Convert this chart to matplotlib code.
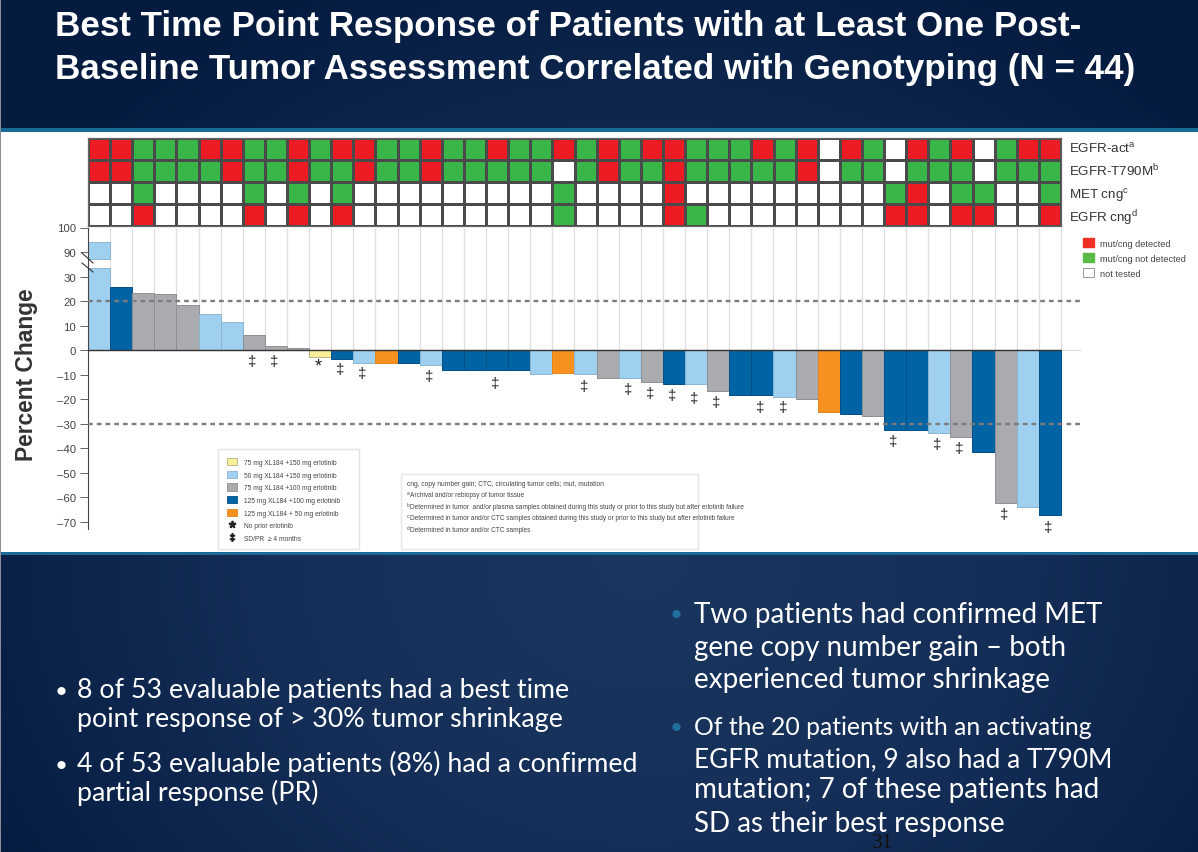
import numpy as np
import matplotlib
matplotlib.use("Agg")
import matplotlib.pyplot as plt
import matplotlib.ticker as mticker
from matplotlib.colors import ListedColormap, LinearSegmentedColormap
from matplotlib.patches import Patch, Rectangle
from matplotlib.lines import Line2D

W, H = 1198, 853
plt.rcParams["font.family"] = ["Liberation Sans", "DejaVu Sans"]
plt.rcParams["mathtext.default"] = "regular"

# ---------- data ----------
gene_labels = ["EGFR-act$^{a}$", "EGFR-T790M$^{b}$", "MET cng$^{c}$", "EGFR cng$^{d}$"]
# R detected, G not detected, W not tested
egfr_act  = "RRGGGRRGGRGRRGGRGGRGGRGRGRRGGGRGRWRGWRGRWGRR"
egfr_t790 = "RRGGGGRGGRGGRGGRGGGGGWGRGGRGGGGGRWGGWGGGWGGG"
met_cng   = "WWGWWWWGWGWGWWWWWWWWWGWWWWRWWWWWWWWWGRWGGWWG"
egfr_cng  = "WWRWWWWRWRWRWWWWWWWWWGWWWWRGWWWWWWWWRRWRRWWR"

first_bar_lower_top = 51.0
first_bar_upper = (72.7, 94.1)
changes = [94.1, 25.8, 23.4, 22.7, 18.4, 14.7, 11.3, 6.1, 1.8, 1.0, -2.7, -3.5, -5.2, -5.2,
           -5.2, -6.1, -8.0, -8.0, -8.0, -8.0, -9.6, -9.5, -9.7, -11.3, -11.4, -13.1, -13.8,
           -13.7, -16.8, -18.2, -18.2, -19.0, -19.9, -25.2, -25.9, -26.8, -32.8, -32.8, -33.7,
           -35.5, -41.5, -62.3, -64.1, -67.3]
doses = "LDGGGLLGGGYDLODLDDDDLOLGLGDLGDDLGODGDDLGDGLD"
dose_names = ["75 mg XL184 +150 mg erlotinib", "50 mg XL184 +150 mg erlotinib",
              "75 mg XL184 +100 mg erlotinib", "125 mg XL184 +100 mg erlotinib",
              "125 mg XL184 + 50 mg erlotinib"]
dose_keys = ["Y", "L", "G", "D", "O"]
dagger_cols = [7, 8, 11, 12, 15, 18, 22, 24, 25, 26, 27, 28, 30, 31, 36, 38, 39, 41, 43]
dagger_vals = [-4.5, -4.5, -7.8, -9.4, -10.5, -13.6, -14.6, -15.9, -17.5, -18.5, -19.7, -21.1,
               -23.4, -23.4, -37.3, -38.4, -40.0, -66.9, -72.0]
star_cols = [10]
star_vals = [-6.3]
yticks = [-70, -60, -50, -40, -30, -20, -10, 0, 10, 20, 30, 90, 100]
ref_lines = [20, -30]
note_marks = ["", "a", "b", "c", "d"]
notes = ["cng, copy number gain; CTC, circulating tumor cells; mut, mutation",
         "Archival and/or rebiopsy of tumor tissue",
         "Determined in tumor  and/or plasma samples obtained during this study or prior to this study but after erlotinib failure",
         "Determined in tumor and/or CTC samples obtained during this study or prior to this study but after erlotinib failure",
         "Determined in tumor and/or CTC samples"]
title_lines = ["Best Time Point Response of Patients with at Least One Post-",
               "Baseline Tumor Assessment Correlated with Genotyping (N = 44)"]
left_lines = ["8 of 53 evaluable patients had a best time", "point response of > 30% tumor shrinkage",
              "4 of 53 evaluable patients (8%) had a confirmed", "partial response (PR)"]
right_lines = ["Two patients had confirmed MET", "gene copy number gain – both", "experienced tumor shrinkage",
               "Of the 20 patients with an activating", "EGFR mutation, 9 also had a T790M",
               "mutation; 7 of these patients had", "SD as their best response"]
right_sizes = [20, 20, 20, 17.8, 18.9, 20, 20]

fill = {"Y": "#f8f09c", "L": "#9fd0f0", "G": "#a9abae", "D": "#0063a4", "O": "#f6901e"}
edge = {"Y": "#b9b27a", "L": "#8db5d2", "G": "#8d8f94", "D": "#00508a", "O": "#e5861c"}

# ---------- helpers ----------
def fx(x): return x / W
def fy(y): return 1 - y / H
def rect_axes(x0, y0, x1, y1, **kw):
    return fig.add_axes([fx(x0), fy(y1), (x1 - x0) / W, (y1 - y0) / H], **kw)

fig = plt.figure(figsize=(W / 100, H / 100), dpi=100)

# ---------- slide background ----------
bg = rect_axes(0, 0, W, H)
yy, xx = np.mgrid[0:H:4, 0:W:4]
d = np.sqrt(((xx - 640) / 760) ** 2 + ((yy - 560) / 640) ** 2)
cmap_bg = LinearSegmentedColormap.from_list("bg", ["#1a3760", "#152e57", "#051b40"])
bg.imshow(np.clip(d, 0, 1), cmap=cmap_bg, extent=[0, W, H, 0], aspect="auto", vmin=0, vmax=1)
bg.set_xlim(0, W); bg.set_ylim(H, 0); bg.axis("off")
bg.add_patch(Rectangle((0, 129), W, 427, fc="#1a6a98", ec="none"))
bg.add_patch(Rectangle((1, 133), W, 420, fc="white", ec="none"))
bg.add_patch(Rectangle((0, 0), 1.2, H, fc="#8a8f96", ec="none"))
bg.add_patch(Rectangle((218, 450), 141, 100, fc="white", ec="#e4e4e4", lw=1.0))
bg.add_patch(Rectangle((401, 475), 297, 75, fc="white", ec="#e6e6e6", lw=1.0))

# ---------- heat strip ----------
rows = [egfr_act, egfr_t790, met_cng, egfr_cng]
code = {"W": 0, "G": 1, "R": 2}
matrix = np.array([[code[c] for c in r] for r in rows])
hm = rect_axes(88, 139, 1061, 227)
hm.pcolormesh(np.arange(45), np.arange(5), matrix,
              cmap=ListedColormap(["white", "#39b54a", "#ed1c24"]), vmin=0, vmax=2,
              edgecolors="#4a4a4a", linewidth=0.75)
hm.set_xlim(0, 44); hm.set_ylim(4, 0)
hm.set_xticks([]); hm.set_yticks([])
for s in hm.spines.values():
    s.set_color("#666666"); s.set_linewidth(0.9)
for y, lab in zip([153, 176, 199, 222], gene_labels):
    fig.text(fx(1069), fy(y), lab, fontsize=9.6, color="#333333", va="baseline")

# ---------- waterfall ----------
def fwd(v):
    v = np.asarray(v, dtype=float)
    return np.where(v <= 30, v, np.where(v <= 90, 30 + (v - 30) / 6, v - 50))
def inv(v):
    v = np.asarray(v, dtype=float)
    return np.where(v <= 30, v, np.where(v <= 40, 30 + (v - 30) * 6, v + 50))

ax = rect_axes(88, 228.5, 1082, 530)
ax.patch.set_alpha(0)
ax.set_yscale("function", functions=(fwd, inv))
ax.set_xlim(0, 994 / 22.11)
ax.set_ylim(-73, 100)
ax.vlines(np.arange(1, 45), 0, 100, color="#dedede", lw=0.9, zorder=1)

xs = np.arange(44) + 0.5
colors = [fill[d] for d in doses]
edges = [edge[d] for d in doses]
heights = list(changes)
heights[0] = first_bar_lower_top
ax.bar(xs, heights, width=1.0, color=colors, edgecolor=edges, linewidth=0.7, zorder=2)
ax.bar(xs[0], first_bar_upper[1] - first_bar_upper[0], bottom=first_bar_upper[0], width=1.0,
       color=colors[0], edgecolor=edges[0], linewidth=0.7, zorder=2)

for v in ref_lines:
    ax.axhline(v, color="#7d7d7d", lw=1.7, dashes=(2.0, 1.7), zorder=3)
ax.axhline(0, color="#e2e2e2", lw=0.9, zorder=1)
ax.hlines(0, 0, 44, color="#333333", lw=1.0, zorder=3)

for c, v in zip(dagger_cols, dagger_vals):
    ax.text(c + 0.42, v, "‡", fontsize=11, ha="center", va="center", color="#222222", zorder=4)
for c, v in zip(star_cols, star_vals):
    ax.text(c + 0.42, v, "*", fontsize=13, ha="center", va="center", color="#222222", zorder=4)

ax.set_yticks(yticks)
ax.set_yticklabels([str(t).replace("-", "–") for t in yticks], fontsize=8.2, color="#444444")
ax.yaxis.set_minor_locator(mticker.NullLocator())
ax.set_xticks([])
ax.tick_params(axis="y", length=5.5, width=0.7, color="#666666", pad=3)
for s in ["top", "right", "bottom"]:
    ax.spines[s].set_visible(False)
ax.spines["left"].set_color("#444444")
ax.spines["left"].set_linewidth(0.8)

# axis break marks
for y0, y1 in [(254, 264), (264, 273)]:
    fig.add_artist(Line2D([fx(82), fx(93)], [fy(y0), fy(y1)], color="#333333", lw=0.8))

fig.text(fx(27), fy(375), "Percent Change", rotation=90, fontsize=16.4, fontweight="bold",
         color="#333333", ha="center", va="center")

# ---------- legends ----------
handles = [Patch(fc=fill[k], ec=edge[k], lw=0.6) for k in dose_keys]
handles += [Line2D([], [], ls="", marker="$*$", ms=4.5, color="#222222"),
            Line2D([], [], ls="", marker="$‡$", ms=5.5, color="#222222")]
labels = dose_names + ["No prior erlotinib", "SD/PR  ≥ 4 months"]
fig.legend(handles, labels, loc="upper left", bbox_to_anchor=(fx(226.5), fy(459)),
           prop={"size": 4.8}, labelcolor="#444444", frameon=False,
           handlelength=1.5, handleheight=1.3, labelspacing=0.72, borderpad=0,
           handletextpad=1.2, borderaxespad=0)

status_handles = [Patch(fc="#ee3124", ec="#ee3124"), Patch(fc="#5ab947", ec="#5ab947"),
                  Patch(fc="white", ec="#999999", lw=0.7)]
fig.legend(status_handles, ["mut/cng detected", "mut/cng not detected", "not tested"],
           loc="upper left", bbox_to_anchor=(fx(1082.7), fy(239)),
           prop={"size": 6.6}, labelcolor="#444444", frameon=False,
           handlelength=1.2, handleheight=1.15, labelspacing=0.59, borderpad=0,
           handletextpad=0.65, borderaxespad=0)

for y, mark, line in zip([486, 497.5, 509, 520.5, 532], note_marks, notes):
    if mark:
        fig.text(fx(407), fy(y - 2), mark, fontsize=3.4, color="#444444", va="baseline")
        fig.text(fx(410), fy(y), line, fontsize=4.72, color="#444444", va="baseline")
    else:
        fig.text(fx(407), fy(y), line, fontsize=4.75, color="#444444", va="baseline")

# ---------- slide text ----------
for y, line in zip([36, 78.5], title_lines):
    fig.text(fx(55), fy(y), line, fontsize=25.2, fontweight="bold", color="white", va="baseline")

LB = ["Lato", "DejaVu Sans"]
for y, line in zip([698, 727.5, 772, 801.5], left_lines):
    fig.text(fx(77), fy(y), line, fontsize=19.3, family=LB, color="white", va="baseline")
for y in [698, 772]:
    fig.text(fx(55), fy(y), "•", fontsize=16, family=LB, color="white", va="baseline")

for y, line, size in zip([623, 656, 688, 735, 767, 798, 832], right_lines, right_sizes):
    fig.text(fx(694), fy(y), line, fontsize=size, family=LB, color="white", va="baseline")
for y in [621, 734]:
    fig.text(fx(670), fy(y), "•", fontsize=16, family=LB, color="#1f6f9f", va="baseline")

fig.text(fx(883), fy(848), "31", fontsize=15.5, family=["Liberation Serif"], color="#101010",
         ha="center", va="baseline")

fig.savefig("out.png", dpi=100)
